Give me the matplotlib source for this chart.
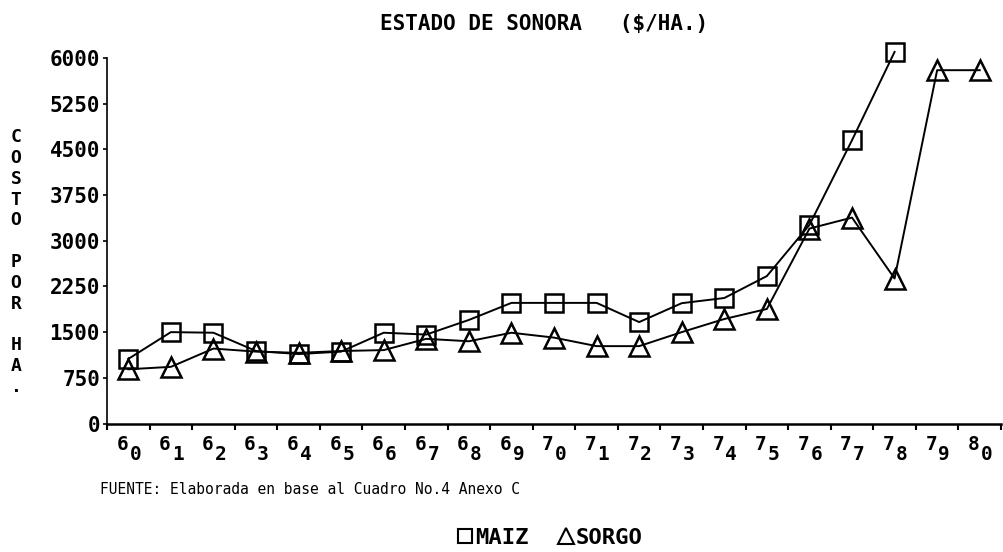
import numpy as np
import matplotlib
matplotlib.use("Agg")
import matplotlib.pyplot as plt
from matplotlib.lines import Line2D
from matplotlib.transforms import offset_copy

# ---------------- data ----------------
decade_digit = ['6'] * 10 + ['7'] * 10 + ['8']
year_digit = [str(d) for d in range(10)] * 2 + ['0']
maiz = [1060, 1500, 1490, 1190, 1140, 1180, 1490, 1460, 1700, 1980,
        1980, 1980, 1665, 1975, 2060, 2420, 3260, 4650, 6100]
sorgo = [890, 930, 1230, 1180, 1160, 1190, 1205, 1390, 1350, 1490,
         1410, 1270, 1270, 1500, 1715, 1880, 3200, 3380, 2380, 5800, 5800]
y_ticks = [0, 750, 1500, 2250, 3000, 3750, 4500, 5250, 6000]
title = "ESTADO DE SONORA   ($/HA.)"
ylabel = "COSTO POR HA."
source = "FUENTE: Elaborada en base al Cuadro No.4 Anexo C"
series_names = ["MAIZ", "SORGO"]

MONO = "DejaVu Sans Mono"
W, H = 1004, 552

fig = plt.figure(figsize=(W / 100, H / 100), dpi=100)
fig.patch.set_facecolor("white")
ax = fig.add_axes([107 / W, 1 - 423.5 / H, (1001 - 107) / W, (423.5 - 58) / H])
ax.set_facecolor("white")

x_m = np.arange(len(maiz))
x_s = np.arange(len(sorgo))
ax.plot(x_m, maiz, color="black", lw=1.4, marker="s", ms=13.5, mfc="none",
        mec="black", mew=1.8, clip_on=False, zorder=3)
ax.plot(x_s, sorgo, color="black", lw=1.4, marker="^", ms=14, mfc="none",
        mec="black", mew=1.8, clip_on=False, zorder=3)

n = len(decade_digit)
ax.set_xlim(-0.5, n - 0.5)
ax.set_ylim(0, 6000)

# spines
for s in ["top", "right"]:
    ax.spines[s].set_visible(False)
ax.spines["bottom"].set_linewidth(1.8)
ax.spines["left"].set_linewidth(1.2)

# x ticks at category boundaries, labels drawn as digit + subscript
ax.set_xticks(np.arange(-0.5, n, 1.0))
ax.set_xticklabels([])
ax.tick_params(axis="x", direction="out", length=4, width=1.5)
xt = ax.get_xaxis_transform()
for i in range(n):
    t_main = offset_copy(xt, fig=fig, x=-6, y=-21.5, units="dots")
    t_sub = offset_copy(xt, fig=fig, x=7, y=-31, units="dots")
    ax.text(i, 0, decade_digit[i], transform=t_main, ha="center", va="center",
            fontsize=14, fontweight="bold", family=MONO)
    ax.text(i, 0, year_digit[i], transform=t_sub, ha="center", va="center",
            fontsize=14, fontweight="bold", family=MONO)

ax.set_yticks(y_ticks)
ax.set_yticklabels([str(v) for v in y_ticks], fontsize=15, fontweight="bold",
                   family=MONO)
ax.tick_params(axis="y", direction="out", length=3, width=1.2, pad=2)

# title
fig.text(544 / W, 1 - 24 / H, title, ha="center", va="center",
         fontsize=15, fontweight="bold", family=MONO)

# stacked vertical y label
stacked = "\n".join(list(ylabel))
fig.text(16 / W, 1 - 262 / H, stacked, ha="center", va="center",
         fontsize=13, fontweight="bold", family=MONO, linespacing=1.2)

# source note
fig.text(100 / W, 1 - 490 / H, source, ha="left", va="center",
         fontsize=10.5, family=MONO)

# legend
handles = [
    Line2D([], [], ls="none", marker="s", ms=10, mfc="none", mec="black", mew=1.5),
    Line2D([], [], ls="none", marker="^", ms=12, mfc="none", mec="black", mew=1.5),
]
fig.legend(handles, series_names, loc="center",
           bbox_to_anchor=(550 / W, 1 - 538 / H), ncol=2, frameon=False,
           handlelength=0.7, handletextpad=0.1, columnspacing=1.3,
           prop={"family": MONO, "weight": "bold", "size": 16},
           borderaxespad=0, borderpad=0)

fig.savefig("out.png", dpi=100, facecolor="white")
